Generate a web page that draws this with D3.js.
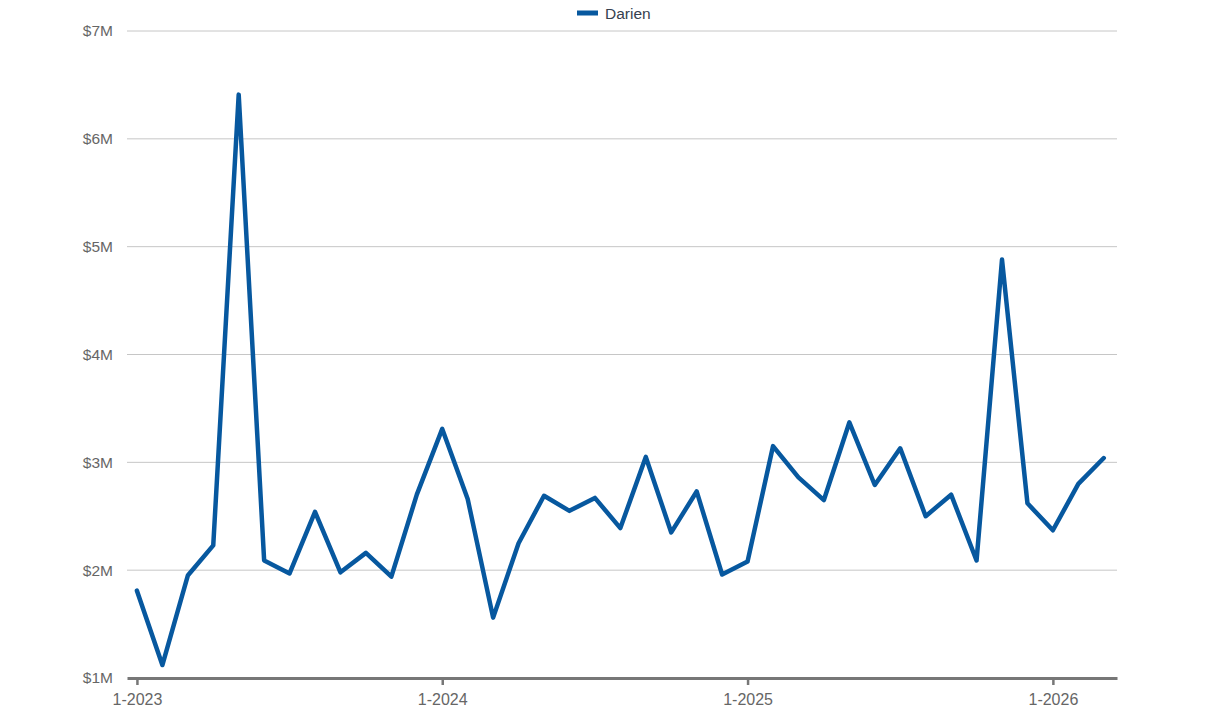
<!DOCTYPE html>
<html>
<head>
<meta charset="utf-8">
<script src="https://cdn.jsdelivr.net/npm/d3@7"></script>
<style>
  body { margin: 0; background: #fff; }
  text { font-family: "Liberation Sans", Arial, sans-serif; }
</style>
</head>
<body>
<script>
// monthly values, Jan 2023 .. Mar 2026 (in $M)
const months = [
  "1-2023","2-2023","3-2023","4-2023","5-2023","6-2023","7-2023","8-2023","9-2023","10-2023","11-2023","12-2023",
  "1-2024","2-2024","3-2024","4-2024","5-2024","6-2024","7-2024","8-2024","9-2024","10-2024","11-2024","12-2024",
  "1-2025","2-2025","3-2025","4-2025","5-2025","6-2025","7-2025","8-2025","9-2025","10-2025","11-2025","12-2025",
  "1-2026","2-2026","3-2026"
];
const darien = [
  1.81, 1.12, 1.95, 2.23, 6.41, 2.09, 1.97, 2.54, 1.98, 2.16, 1.94, 2.70,
  3.31, 2.66, 1.56, 2.25, 2.69, 2.55, 2.67, 2.39, 3.05, 2.35, 2.73, 1.96,
  2.08, 3.15, 2.86, 2.65, 3.37, 2.79, 3.13, 2.50, 2.70, 2.09, 4.88, 2.62,
  2.37, 2.80, 3.04
];
const yTicks = [1, 2, 3, 4, 5, 6, 7];
const xTickLabels = ["1-2023", "1-2024", "1-2025", "1-2026"];
const seriesName = "Darien";

const width = 1209, height = 711;
const margin = { top: 31, right: 92, bottom: 33, left: 127 };

const svg = d3.select("body").append("svg")
    .attr("width", width)
    .attr("height", height);

// x is month index
const xScale = d3.scaleLinear()
    .domain([-0.39, 38.52])
    .range([margin.left, width - margin.right]);

const yScale = d3.scaleLinear()
    .domain([1, 7])
    .range([height - margin.bottom, margin.top]);

// gridlines
svg.append("g")
    .selectAll("line")
    .data(yTicks.filter(d => d > 1))
    .join("line")
    .attr("x1", margin.left)
    .attr("x2", width - margin.right)
    .attr("y1", d => yScale(d))
    .attr("y2", d => yScale(d))
    .attr("stroke", "#c6c6c6")
    .attr("stroke-width", 1);

// y axis labels
const yAxis = svg.append("g")
    .attr("transform", "translate(" + margin.left + ",0)")
    .call(d3.axisLeft(yScale).tickValues(yTicks).tickSize(0).tickPadding(14).tickFormat(d => "$" + d + "M"));
yAxis.select(".domain").remove();
yAxis.selectAll("text")
    .attr("fill", "#666")
    .style("font-size", "15.5px");

// x axis
const xTickIdx = xTickLabels.map(l => months.indexOf(l));
const xAxis = svg.append("g")
    .attr("transform", "translate(0," + (height - margin.bottom) + ")")
    .call(d3.axisBottom(xScale).tickValues(xTickIdx).tickSize(7).tickPadding(9).tickFormat(i => months[i]).tickSizeOuter(0));
xAxis.select(".domain")
    .attr("stroke", "#777")
    .attr("stroke-width", 3);
xAxis.selectAll(".tick line")
    .attr("stroke", "#777")
    .attr("stroke-width", 2.5);
xAxis.selectAll("text")
    .attr("fill", "#666")
    .style("font-size", "16px");

// line
const line = d3.line()
    .x((d, i) => xScale(i))
    .y(d => yScale(d));

svg.append("path")
    .datum(darien)
    .attr("d", line)
    .attr("fill", "none")
    .attr("stroke", "#07589f")
    .attr("stroke-width", 4.5)
    .attr("stroke-linejoin", "round")
    .attr("stroke-linecap", "round");

// legend
const legend = svg.append("g").attr("transform", "translate(577,13)");
legend.append("rect")
    .attr("x", 0).attr("y", -2.5)
    .attr("width", 21).attr("height", 5)
    .attr("fill", "#07589f");
legend.append("text")
    .attr("x", 28).attr("y", 5.5)
    .attr("fill", "#36414f")
    .style("font-size", "15.5px")
    .text(seriesName);
</script>
</body>
</html>
